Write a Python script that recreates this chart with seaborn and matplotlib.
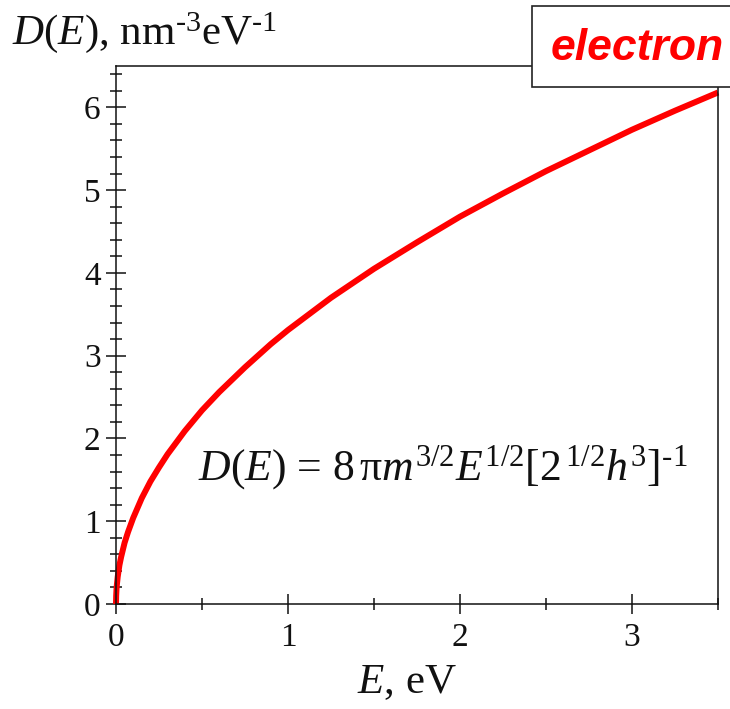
import matplotlib
matplotlib.use("Agg")
import matplotlib.pyplot as plt
import matplotlib.patches as mpatches
from matplotlib.ticker import MultipleLocator
import seaborn as sns
import pandas as pd

# Values
energy_eV = [0, 0.001, 0.003, 0.005, 0.01, 0.02, 0.03, 0.05, 0.07, 0.1, 0.15,
             0.2, 0.25, 0.3, 0.4, 0.5, 0.6, 0.75, 0.9, 1.0, 1.25, 1.5, 1.75,
             2.0, 2.25, 2.5, 2.75, 3.0, 3.25, 3.5]
dos = [0, 0.10, 0.18, 0.23, 0.33, 0.47, 0.57, 0.74, 0.87, 1.04, 1.28,
       1.48, 1.65, 1.81, 2.09, 2.34, 2.56, 2.86, 3.14, 3.31, 3.70, 4.05, 4.37,
       4.68, 4.96, 5.23, 5.48, 5.73, 5.96, 6.18]
x_ticks = [0, 1, 2, 3]
y_ticks = [0, 1, 2, 3, 4, 5, 6]
label_text = "electron"
formula_text = (r"$D(E)$ = 8$\,\text{π}m^{3/2}E^{1/2}[2^{\,1/2}h^3]^{\text{-1}}$")
ylabel_text = r"$D(E)$, nm$^{\text{-3}}$eV$^{\text{-1}}$"
xlabel_text = r"$E$, eV"

sns.set_style("ticks")
plt.rcParams["font.family"] = ["Liberation Serif", "DejaVu Serif"]
plt.rcParams["mathtext.fontset"] = "custom"
plt.rcParams["mathtext.rm"] = "Liberation Serif"
plt.rcParams["mathtext.it"] = "Liberation Serif:italic"
plt.rcParams["mathtext.bf"] = "Liberation Serif:bold"

df = pd.DataFrame({"E": energy_eV, "D": dos})

W, H = 730, 709
fig = plt.figure(figsize=(W / 100, H / 100), dpi=100)
ax = fig.add_axes([116 / W, 1 - 604 / H, (718 - 116) / W, (604 - 66) / H])

sns.lineplot(data=df, x="E", y="D", ax=ax, color="#ff0000", linewidth=4.3,
             solid_capstyle="butt", solid_joinstyle="round", clip_on=False)

ax.set_xlim(0, 3.5)
ax.set_ylim(0, 6.5)
ax.set_xticks(x_ticks)
ax.set_yticks(y_ticks)
ax.xaxis.set_minor_locator(MultipleLocator(0.5))
ax.yaxis.set_minor_locator(MultipleLocator(0.2))
ax.tick_params(which="major", direction="inout", length=14, width=1.1,
               labelsize=24, color="#111111", labelcolor="#111111")
ax.tick_params(which="minor", direction="inout", length=8, width=1.1,
               color="#111111")
ax.tick_params(axis="y", pad=4)
ax.tick_params(axis="x", pad=6)
for s in ax.spines.values():
    s.set_visible(True)
    s.set_linewidth(1.1)
    s.set_color("#111111")
ax.set_xlabel("")
ax.set_ylabel("")

ax.text((443 - 116) / 602, (604 - 468) / 538, formula_text,
        transform=ax.transAxes, fontsize=31.5, ha="center", va="center",
        color="#111111")

fig.text(12 / W, 1 - 33 / H, ylabel_text, fontsize=31, ha="left",
         va="center", color="#111111")
fig.text(407 / W, 1 - 683 / H, xlabel_text, fontsize=31, ha="center",
         va="center", color="#111111")

box = mpatches.Rectangle((532 / W, 1 - 87 / H), (735 - 532) / W, (87 - 6) / H,
                         transform=fig.transFigure, facecolor="white",
                         edgecolor="#222222", linewidth=1.2, zorder=10)
fig.patches.append(box)
fig.text(551 / W, 1 - 48 / H, label_text, fontsize=32, color="#ff0000",
         fontweight="bold", fontstyle="italic",
         family=["Liberation Sans", "DejaVu Sans"], ha="left", va="center",
         zorder=11)

fig.savefig("out.png", dpi=100)
